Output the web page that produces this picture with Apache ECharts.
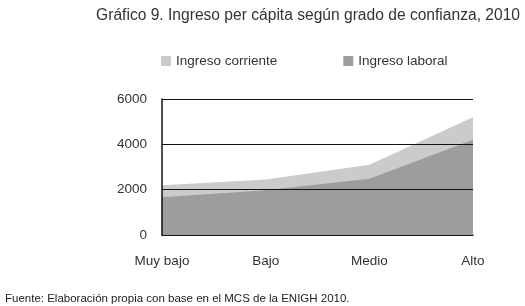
<!DOCTYPE html>
<html><head><meta charset="utf-8">
<script src="https://cdn.jsdelivr.net/npm/echarts@6/dist/echarts.min.js"></script>
<style>html,body{margin:0;padding:0;background:#fff}#c{width:525px;height:306px}</style>
</head><body><div id="c"></div>
<script>
var categories = ["Muy bajo", "Bajo", "Medio", "Alto"];
var ingresoCorriente = [2200, 2450, 3100, 5200];
var ingresoLaboral = [1660, 1970, 2480, 4200];
var yTicks = [0, 2000, 4000, 6000];

var chart = echarts.init(document.getElementById('c'));
var font = "'Liberation Sans', Arial, sans-serif";
chart.setOption({
  animation: false,
  title: [{
    text: "Gráfico 9. Ingreso per cápita según grado de confianza, 2010",
    right: 0, top: 3,
    textStyle: {fontFamily: font, fontSize: 15.6, fontWeight: 'normal', color: '#333'}
  }, {
    text: "Fuente: Elaboración propia con base en el MCS de la ENIGH 2010.",
    left: 0, top: 288,
    textStyle: {fontFamily: font, fontSize: 11.5, fontWeight: 'normal', color: '#222'}
  }],
  legend: {
    left: 156, top: 49,
    itemWidth: 10, itemHeight: 10, itemGap: 66,
    icon: 'rect',
    textStyle: {fontFamily: font, fontSize: 13.5, color: '#333', padding: [0, 0, 0, 0]},
    data: ["Ingreso corriente", "Ingreso laboral"]
  },
  grid: {left: 162, right: 52, top: 99, bottom: 71},
  xAxis: {
    type: 'category', data: categories, boundaryGap: false,
    axisLine: {lineStyle: {color: '#111', width: 1.5}},
    axisTick: {show: false},
    axisLabel: {fontFamily: font, fontSize: 13.5, color: '#333', margin: 19}
  },
  yAxis: {
    type: 'value', min: 0, max: 6000, interval: 2000, z: 10,
    axisLine: {show: true, lineStyle: {color: '#111', width: 1.5}},
    axisTick: {show: false},
    splitLine: {lineStyle: {color: '#111', width: 1.2}},
    axisLabel: {fontFamily: font, fontSize: 13.5, color: '#333', margin: 15,
      formatter: function (v) { return yTicks.indexOf(v) >= 0 ? String(v) : ''; }}
  },
  series: [{
    name: "Ingreso corriente", type: 'line', data: ingresoCorriente,
    symbol: 'none', lineStyle: {width: 0}, itemStyle: {color: '#cbcbcc'},
    areaStyle: {color: '#cbcbcc', opacity: 1}
  }, {
    name: "Ingreso laboral", type: 'line', data: ingresoLaboral,
    symbol: 'none', lineStyle: {width: 0}, itemStyle: {color: '#9d9d9f'},
    areaStyle: {color: '#9d9d9f', opacity: 1}
  }]
});
</script></body></html>
